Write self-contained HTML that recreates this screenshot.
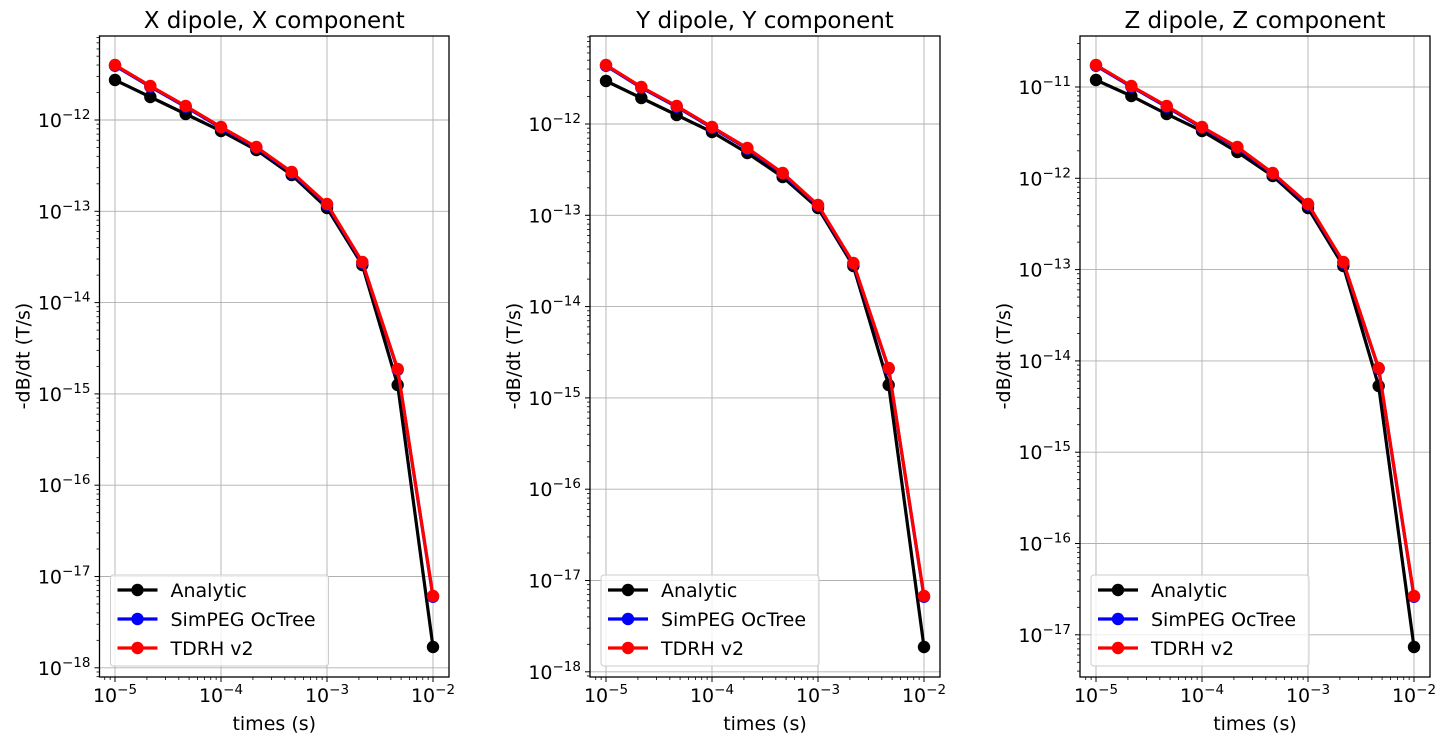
<!DOCTYPE html>
<html><head><meta charset="utf-8"><style>
body{margin:0;background:#fff;}
svg text{font-family:"DejaVu Sans","Liberation Sans",sans-serif;fill:#000;}
</style></head><body>
<svg id="s" width="1445" height="742" xmlns="http://www.w3.org/2000/svg"></svg>
<script>
const S=document.getElementById('s');let h='';
const plots=[
 {L:99.5,R:449,T:36,B:677,x0:115,dec:106,yRef:120,eRef:-12,emin:-18,emax:-12,title:'X dipole, X component',
  a:[80,97,114,131,150,175,208,265,385,647],r:[65,86,106,127,147,172,204,262,369,596]},
 {L:590,R:940,T:36,B:677,x0:606,dec:106,yRef:124,eRef:-12,emin:-18,emax:-12,title:'Y dipole, Y component',
  a:[81,98,115,132,153,177,208,266,385,647],r:[65,87,106,127,148,173,205,263,368,596]},
 {L:1080,R:1430,T:36,B:677,x0:1096,dec:106,yRef:87,eRef:-11,emin:-17,emax:-11,title:'Z dipole, Z component',
  a:[80,96,114,131,152,176,208,266,386,647],r:[65,86,106,127,147,173,204,262,368,596]}
];
const yd=91.3;
plots.forEach(p=>{
 const X=e=>p.x0+(e+5)*p.dec, Y=e=>p.yRef-(e-p.eRef)*yd;
 let g='';
 for(let e=-5;e<=-2;e++){const x=X(e);g+=`<line x1="${x}" y1="${p.T}" x2="${x}" y2="${p.B}" stroke="#b0b0b0" stroke-width="0.9"/>`;}
 for(let e=p.emin;e<=p.emax;e++){const y=Y(e);g+=`<line x1="${p.L}" y1="${y}" x2="${p.R}" y2="${y}" stroke="#b0b0b0" stroke-width="0.9"/>`;}
 for(let e=-6;e<=-2;e++){for(let m=1;m<10;m++){const x=X(e+Math.log10(m));if(x<p.L||x>p.R)continue;
   if(m==1){g+=`<line x1="${x}" y1="${p.B}" x2="${x}" y2="${p.B+5}" stroke="#000" stroke-width="1"/><text x="${x}" y="${p.B+25}" font-size="19" text-anchor="middle">10<tspan dy="-8" font-size="13.5">−${-e}</tspan></text>`;}
   else g+=`<line x1="${x}" y1="${p.B}" x2="${x}" y2="${p.B+3}" stroke="#000" stroke-width="0.8"/>`;}}
 for(let e=p.emin-1;e<=p.emax+1;e++){for(let m=1;m<10;m++){const y=Y(e+Math.log10(m));if(y<p.T||y>p.B)continue;
   if(m==1){g+=`<line x1="${p.L-5}" y1="${y}" x2="${p.L}" y2="${y}" stroke="#000" stroke-width="1"/><text x="${p.L-9}" y="${y+7}" font-size="19" text-anchor="end">10<tspan dy="-8" font-size="13.5">−${-e}</tspan></text>`;}
   else g+=`<line x1="${p.L-3}" y1="${y}" x2="${p.L}" y2="${y}" stroke="#000" stroke-width="0.8"/>`;}}
 const xs=[...Array(10).keys()].map(i=>p.x0+i*p.dec/3);
 const ser=(ys,c)=>{let pts=xs.map((x,i)=>x+','+ys[i]).join(' ');let s=`<polyline points="${pts}" fill="none" stroke="${c}" stroke-width="3.2"/>`;xs.forEach((x,i)=>s+=`<circle cx="${x}" cy="${ys[i]}" r="6.2" fill="${c}"/>`);return s;};
 g+=ser(p.a,'#000');g+=ser(p.r.map(v=>v+0.8),'#0000ff');g+=ser(p.r,'#ff0000');
 g+=`<rect x="${p.L}" y="${p.T}" width="${p.R-p.L}" height="${p.B-p.T}" fill="none" stroke="#000" stroke-width="1.3"/>`;
 const lx=p.L+11;
 g+=`<rect x="${lx}" y="575" width="218" height="91" rx="3" fill="#fff" fill-opacity="0.8" stroke="#ccc"/>`;
 [['Analytic','#000'],['SimPEG OcTree','#0000ff'],['TDRH v2','#ff0000']].forEach((it,i)=>{const y=590+i*29;
  g+=`<line x1="${lx+7}" y1="${y}" x2="${lx+47}" y2="${y}" stroke="${it[1]}" stroke-width="3.2"/><circle cx="${lx+27}" cy="${y}" r="6.2" fill="${it[1]}"/><text x="${lx+60}" y="${y+7}" font-size="19">${it[0]}</text>`;});
 const cx=(p.L+p.R)/2;
 g+=`<text x="${cx}" y="28" font-size="23" text-anchor="middle">${p.title}</text>`;
 g+=`<text x="${cx}" y="730" font-size="19" text-anchor="middle">times (s)</text>`;
 g+=`<text transform="translate(${p.L-70},356) rotate(-90)" font-size="19" text-anchor="middle">-dB/dt (T/s)</text>`;
 h+=g;
});
S.innerHTML=h;
</script>
</body></html>
